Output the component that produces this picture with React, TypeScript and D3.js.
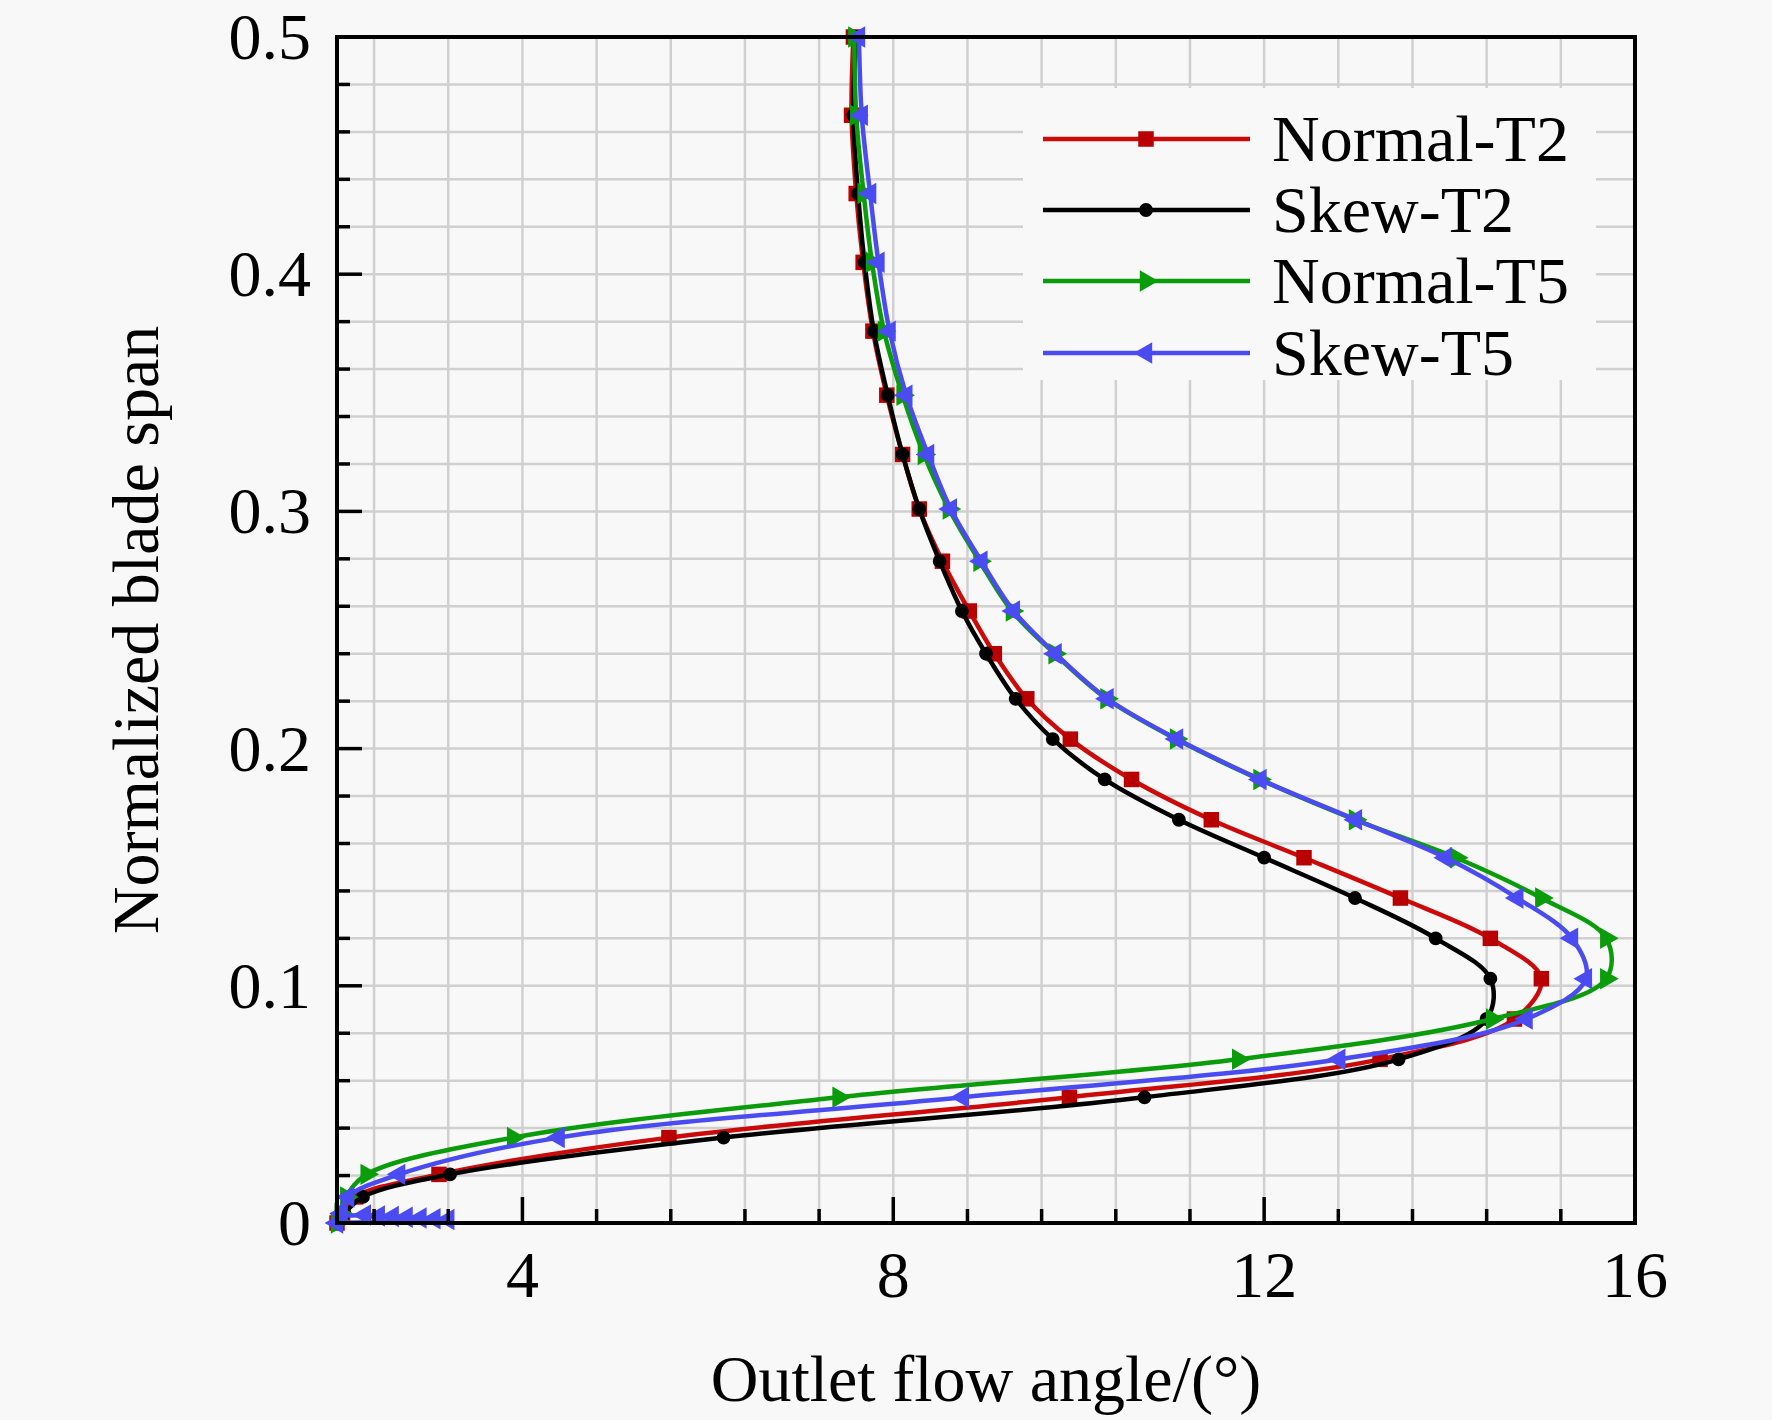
import * as d3 from "d3"

// span levels shared by every series (normalized blade span)
const spanLevels = [
  0, 0.004, 0.011, 0.0205, 0.036, 0.053, 0.069, 0.086, 0.103, 0.12, 0.137,
  0.154, 0.17, 0.187, 0.204, 0.221, 0.24, 0.258, 0.279, 0.301, 0.324, 0.349,
  0.376, 0.405, 0.434, 0.467, 0.5,
]

// outlet flow angle (deg) at each span level
const normalT2Angle = [
  2.0, 2.06, 2.2, 3.1, 5.58, 9.9, 13.25, 14.7, 14.99, 14.44, 13.47,
  12.43, 11.43, 10.57, 9.91, 9.44, 9.09, 8.82, 8.53, 8.28, 8.1, 7.93,
  7.78, 7.675, 7.6, 7.55, 7.57,
]
const skewT2Angle = [
  2.0, 2.08, 2.28, 3.22, 6.17, 10.71, 13.45, 14.4, 14.44, 13.85, 12.98,
  12.0, 11.08, 10.28, 9.72, 9.32, 9.0, 8.74, 8.5, 8.28, 8.1, 7.94,
  7.79, 7.69, 7.62, 7.57, 7.6,
]
const normalT5Angle = [
  2.0, 2.04, 2.1, 2.32, 3.9, 7.41, 11.72, 14.46, 15.69, 15.69, 14.99,
  14.07, 12.98, 11.95, 11.05, 10.3, 9.74, 9.28, 8.93, 8.6, 8.33, 8.1,
  7.9, 7.77, 7.68, 7.6, 7.58,
]
const skewT5Angle = [
  2.0, 2.05, 2.12, 2.67, 4.39, 8.75, 12.81, 14.83, 15.47, 15.32, 14.73,
  13.96, 12.99, 11.96, 11.06, 10.31, 9.75, 9.3, 8.95, 8.62, 8.375, 8.14,
  7.96, 7.84, 7.75, 7.66, 7.63,
]

// extra Skew-T5 points lying along the hub wall
const skewT5HubAngle = [3.2, 3.05, 2.9, 2.75, 2.6, 2.45, 2.3]
const skewT5HubSpan = [0.0015, 0.0018, 0.0021, 0.0024, 0.0027, 0.003, 0.0034]

const seriesNames = ["Normal-T2", "Skew-T2", "Normal-T5", "Skew-T5"]
const xTickLabels = [4, 8, 12, 16]
const yTickLabels = [0, 0.1, 0.2, 0.3, 0.4, 0.5]

const FONT = "'Liberation Serif', 'Times New Roman', serif"
const BG = "#f8f8f8"

type Pt = { a: number; s: number }

const zip = (angles: number[], spans: number[]): Pt[] =>
  angles.map((a, i) => ({ a, s: spans[i] }))

export default function App() {
  const width = 1772
  const height = 1420
  const x = d3.scaleLinear().domain([2, 16]).range([337, 1635])
  const y = d3.scaleLinear().domain([0, 0.5]).range([1223, 37])

  const skewT5Pts = [
    { a: skewT5Angle[0], s: spanLevels[0] },
    ...zip(skewT5HubAngle, skewT5HubSpan),
    ...zip(skewT5Angle, spanLevels).slice(1),
  ]

  const series = [
    { name: seriesNames[0], color: "#cc0a0a", mark: "#b80000", pts: zip(normalT2Angle, spanLevels), sym: d3.symbolSquare, size: 240, rot: 0 },
    { name: seriesNames[1], color: "#000000", mark: "#000000", pts: zip(skewT2Angle, spanLevels), sym: d3.symbolCircle, size: 150, rot: 0 },
    { name: seriesNames[2], color: "#0a9c0a", mark: "#0a9c0a", pts: zip(normalT5Angle, spanLevels), sym: d3.symbolTriangle, size: 200, rot: 90 },
    { name: seriesNames[3], color: "#4b4bf2", mark: "#4b4bf2", pts: skewT5Pts, sym: d3.symbolTriangle, size: 200, rot: -90 },
  ]

  const line = d3
    .line<Pt>()
    .x((d) => x(d.a))
    .y((d) => y(d.s))
    .curve(d3.curveCatmullRom.alpha(0.5))

  // grid / tick positions: major every 4 deg and 0.1 span, 4 minors between
  const xMinor = d3.range(-2, 15).map((k) => 4 + k * 0.8)
  const yMinor = d3.range(1, 25).map((k) => k * 0.02)
  const isMajorX = (v: number) => Math.abs(v / 4 - Math.round(v / 4)) < 1e-6
  const isMajorY = (v: number) => Math.abs(v / 0.1 - Math.round(v / 0.1)) < 1e-6

  const [x0, x1] = x.range()
  const [y0, y1] = y.range()

  const legendRows = [139, 210, 281, 353]

  return (
    <svg
      width={width}
      height={height}
      style={{ position: "absolute", left: 0, top: 0, display: "block" }}
    >
      <rect width={width} height={height} fill={BG} />

      {/* grid */}
      <g stroke="#d0d0d0" strokeWidth={2.5}>
        {xMinor.map((v) => (
          <line key={"gx" + v} x1={x(v)} x2={x(v)} y1={y1} y2={y0} />
        ))}
        {yMinor.map((v) => (
          <line key={"gy" + v} x1={x0} x2={x1} y1={y(v)} y2={y(v)} />
        ))}
      </g>

      {/* legend background hides the grid */}
      <rect x={1023} y={88} width={573} height={292} fill={BG} />

      {/* series */}
      {series.map((s) => (
        <g key={s.name}>
          <path d={line(s.pts) ?? ""} fill="none" stroke={s.color} strokeWidth={4.5} />
          {s.pts.map((p, i) => (
            <path
              key={i}
              d={d3.symbol().type(s.sym).size(s.size)() ?? ""}
              transform={`translate(${x(p.a)},${y(p.s)}) rotate(${s.rot})`}
              fill={s.mark}
            />
          ))}
        </g>
      ))}

      {/* ticks (inward, left and bottom only) */}
      <g stroke="#000" strokeWidth={3.5}>
        {yMinor.map((v) => (
          <line key={"ty" + v} x1={x0} x2={x0 + (isMajorY(v) ? 25 : 13)} y1={y(v)} y2={y(v)} />
        ))}
        {xMinor.map((v) => (
          <line key={"tx" + v} x1={x(v)} x2={x(v)} y1={y0} y2={y0 - (isMajorX(v) ? 26 : 14)} />
        ))}
      </g>

      {/* frame */}
      <rect x={x0} y={y1} width={x1 - x0} height={y0 - y1} fill="none" stroke="#000" strokeWidth={4} />

      {/* tick labels */}
      <g fontFamily={FONT} fontSize={66} fill="#000">
        {yTickLabels.map((v) => (
          <text key={"ly" + v} x={x0 - 26} y={y(v) + 22} textAnchor="end">
            {v === 0 ? "0" : v.toFixed(1)}
          </text>
        ))}
        {xTickLabels.map((v) => (
          <text key={"lx" + v} x={x(v)} y={1297} textAnchor="middle">
            {v}
          </text>
        ))}
        <text x={(x0 + x1) / 2} y={1401} textAnchor="middle">
          Outlet flow angle/(°)
        </text>
        <text
          transform={`translate(158,${(y0 + y1) / 2}) rotate(-90)`}
          textAnchor="middle"
        >
          Normalized blade span
        </text>
      </g>

      {/* legend */}
      {series.map((s, i) => (
        <g key={"lg" + s.name}>
          <line x1={1043} x2={1250} y1={legendRows[i]} y2={legendRows[i]} stroke={s.color} strokeWidth={4.5} />
          <path
            d={d3.symbol().type(s.sym).size(s.size)() ?? ""}
            transform={`translate(1146,${legendRows[i]}) rotate(${s.rot})`}
            fill={s.mark}
          />
          <text x={1272} y={legendRows[i] + 22} fontFamily={FONT} fontSize={66} fill="#000">
            {s.name}
          </text>
        </g>
      ))}
    </svg>
  )
}
